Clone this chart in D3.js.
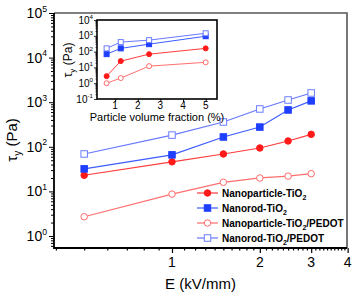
<!DOCTYPE html>
<html>
<head>
<meta charset="utf-8">
<script src="https://cdn.jsdelivr.net/npm/d3@7"></script>
<style>
  body { margin: 0; background: #fff; }
  text { font-family: Arial, 'Liberation Sans', sans-serif; }
</style>
</head>
<body>
<div id="chart"></div>
<script>
// Data - main chart (yield stress vs field strength)
const fields = [0.5, 1, 1.5, 2, 2.5, 3];
const npTiO2 = [23, 46, 69, 94, 135, 190];
const nrTiO2 = [32, 66, 166, 277, 670, 1070];
const npPedot = [2.7, 8.7, 16, 20, 22, 25];
const nrPedot = [69, 183, 360, 705, 1120, 1610];

// Data - inset (yield stress vs volume fraction)
const fractions = [0.625, 1.25, 2.5, 5];
const insetNp = [2.8, 25, 69, 160];
const insetNr = [69, 160, 295, 940];
const insetNpPedot = [1.0, 2.1, 12, 21];
const insetNrPedot = [160, 400, 530, 1450];

const xTicks = [1, 2, 3, 4];
const yTicks = [0, 1, 2, 3, 4, 5];
const insetXTicks = [1, 2, 3, 4, 5];
const insetYTicks = [-1, 0, 1, 2, 3, 4];

const series = [
  { name: 'Nanoparticle-TiO', tail: '', main: npTiO2, inset: insetNp, color: '#ff1a1a', line: '#ff3b3b', shape: 'circle', filled: true },
  { name: 'Nanorod-TiO', tail: '', main: nrTiO2, inset: insetNr, color: '#1f3fff', line: '#3d5cff', shape: 'square', filled: true },
  { name: 'Nanoparticle-TiO', tail: '/PEDOT', main: npPedot, inset: insetNpPedot, color: '#ff6a6a', line: '#ff6f6f', shape: 'circle', filled: false },
  { name: 'Nanorod-TiO', tail: '/PEDOT', main: nrPedot, inset: insetNrPedot, color: '#6c7dff', line: '#6878ff', shape: 'square', filled: false },
];

const width = 354;
const height = 293;
const frame = { left: 54, right: 347, top: 13, bottom: 248 };
const inset = { left: 97, right: 217, top: 20, bottom: 99 };

const svg = d3
  .select('#chart')
  .append('svg')
  .attr('width', width)
  .attr('height', height);

function drawMarker(g, shape, x, y, size, color, filled) {
  if (shape === 'circle') {
    g.append('circle')
      .attr('cx', x).attr('cy', y).attr('r', size / 2)
      .attr('fill', filled ? color : '#fff')
      .attr('stroke', color).attr('stroke-width', 1);
  } else {
    g.append('rect')
      .attr('x', x - size / 2).attr('y', y - size / 2)
      .attr('width', size).attr('height', size)
      .attr('fill', filled ? color : '#fff')
      .attr('stroke', color).attr('stroke-width', 1);
  }
}

function powLabel(sel, exp, size) {
  sel.append('tspan').text('10');
  sel.append('tspan')
    .attr('dy', -size * 0.45)
    .attr('font-size', size * 0.62)
    .text(exp);
}

// ---------- Main chart ----------
const xScale = d3.scaleLog().domain([0.394, 3.98]).range([frame.left, frame.right]);
const yScale = d3.scaleLog().domain([0.538, 1e5]).range([frame.bottom, frame.top]);

// frame top/right
svg.append('path')
  .attr('d', `M${frame.left},${frame.top}H${frame.right}V${frame.bottom}`)
  .attr('fill', 'none').attr('stroke', '#555').attr('stroke-width', 1.6);

const xMinor = d3.range(4, 10).map((d) => d / 10)
  .concat(d3.range(11, 40).filter((d) => d % 10 !== 0).map((d) => d / 10));
const yMinor = [];
for (let e = -1; e < 5; e++) {
  for (let m = 2; m < 10; m++) {
    const v = m * Math.pow(10, e);
    if (v > 0.538 && v < 1e5) yMinor.push(v);
  }
}

const xAxisG = svg.append('g').attr('transform', `translate(0,${frame.bottom})`);
xAxisG.call(d3.axisBottom(xScale).tickValues(xTicks).tickSize(5).tickFormat(''));
xAxisG.append('g').call(d3.axisBottom(xScale).tickValues(xMinor).tickSize(2.5).tickFormat(''));
xAxisG.selectAll('.domain').remove();
xAxisG.selectAll('line').attr('stroke', '#000').attr('stroke-width', 1.2);

const yAxisG = svg.append('g').attr('transform', `translate(${frame.left},0)`);
yAxisG.call(d3.axisLeft(yScale).tickValues(yTicks.map((e) => Math.pow(10, e))).tickSize(5).tickFormat(''));
yAxisG.append('g').call(d3.axisLeft(yScale).tickValues(yMinor).tickSize(3).tickFormat(''));
yAxisG.selectAll('.domain').remove();
yAxisG.selectAll('line').attr('stroke', '#000').attr('stroke-width', 1);

// axis lines
svg.append('path')
  .attr('d', `M${frame.left},${frame.top}V${frame.bottom}H${frame.right}`)
  .attr('fill', 'none').attr('stroke', '#000').attr('stroke-width', 1.8);

// tick labels
svg.append('g').selectAll('text').data(xTicks).join('text')
  .attr('x', (d) => xScale(d))
  .attr('y', frame.bottom + 19)
  .attr('text-anchor', 'middle')
  .attr('font-size', 14)
  .text((d) => d);

svg.append('g').selectAll('text').data(yTicks).join('text')
  .attr('x', frame.left - 7)
  .attr('y', (d) => yScale(Math.pow(10, d)) + 5)
  .attr('text-anchor', 'end')
  .attr('font-size', 14)
  .each(function (d) { powLabel(d3.select(this), d, 14); });

// axis titles
svg.append('text')
  .attr('x', (frame.left + frame.right) / 2)
  .attr('y', 289)
  .attr('text-anchor', 'middle')
  .attr('font-size', 15)
  .text('E (kV/mm)');

const yTitle = svg.append('text')
  .attr('transform', 'translate(17,140) rotate(-90)')
  .attr('text-anchor', 'middle')
  .attr('font-size', 15);
yTitle.append('tspan').text('τ');
yTitle.append('tspan').attr('dy', 4).attr('font-size', 10).text('y');
yTitle.append('tspan').attr('dy', -4).text(' (Pa)');

// series
const line = d3.line().x((d) => xScale(d[0])).y((d) => yScale(d[1]));
series.forEach((s) => {
  const pts = fields.map((f, i) => [f, s.main[i]]);
  const g = svg.append('g');
  g.append('path').attr('d', line(pts)).attr('fill', 'none').attr('stroke', s.line).attr('stroke-width', 1.2);
  pts.forEach((p) => drawMarker(g, s.shape, xScale(p[0]), yScale(p[1]), 6.5, s.color, s.filled));
});

// legend
const legend = svg.append('g').attr('transform', 'translate(197,193)');
series.forEach((s, i) => {
  const row = legend.append('g').attr('transform', `translate(0,${i * 15})`);
  row.append('line').attr('x1', 0).attr('x2', 21).attr('y1', 0).attr('y2', 0)
    .attr('stroke', s.line).attr('stroke-width', 1.2);
  drawMarker(row, s.shape, 10.5, 0, 6.5, s.color, s.filled);
  const t = row.append('text').attr('x', 25).attr('y', 3.5)
    .attr('font-size', 10).attr('font-weight', 'bold');
  t.append('tspan').text(s.name);
  t.append('tspan').attr('dy', 3).attr('font-size', 7).text('2');
  t.append('tspan').attr('dy', -3).text(s.tail);
});

// ---------- Inset ----------
const ix = d3.scaleLinear().domain([0.2, 5.5]).range([inset.left, inset.right]);
const iy = d3.scaleLog().domain([0.1, 1e4]).range([inset.bottom, inset.top]);

svg.append('rect')
  .attr('x', inset.left).attr('y', inset.top)
  .attr('width', inset.right - inset.left).attr('height', inset.bottom - inset.top)
  .attr('fill', '#fff').attr('stroke', '#000').attr('stroke-width', 1.6);

const ixG = svg.append('g').attr('transform', `translate(0,${inset.bottom})`);
ixG.call(d3.axisBottom(ix).tickValues(insetXTicks).tickSize(3).tickFormat(''));
ixG.selectAll('.domain').remove();
ixG.selectAll('line').attr('stroke', '#000');

const iyMinor = [];
for (let e = -1; e < 4; e++) {
  for (let m = 2; m < 10; m++) iyMinor.push(m * Math.pow(10, e));
}
const iyG = svg.append('g').attr('transform', `translate(${inset.left},0)`);
iyG.call(d3.axisLeft(iy).tickValues(insetYTicks.map((e) => Math.pow(10, e))).tickSize(3).tickFormat(''));
iyG.append('g').call(d3.axisLeft(iy).tickValues(iyMinor).tickSize(1.5).tickFormat(''));
iyG.selectAll('.domain').remove();
iyG.selectAll('line').attr('stroke', '#000').attr('stroke-width', 0.8);

svg.append('g').selectAll('text').data(insetXTicks).join('text')
  .attr('x', (d) => ix(d))
  .attr('y', inset.bottom + 9.5)
  .attr('text-anchor', 'middle')
  .attr('font-size', 10)
  .text((d) => d);

svg.append('g').selectAll('text').data(insetYTicks).join('text')
  .attr('x', inset.left - 4)
  .attr('y', (d) => iy(Math.pow(10, d)) + 3.5)
  .attr('text-anchor', 'end')
  .attr('font-size', 10)
  .each(function (d) { powLabel(d3.select(this), d, 10); });

svg.append('text')
  .attr('x', (inset.left + inset.right) / 2 + 0)
  .attr('y', 121)
  .attr('text-anchor', 'middle')
  .attr('font-size', 11)
  .text('Particle volume fraction (%)');

const iTitle = svg.append('text')
  .attr('transform', 'translate(72,60) rotate(-90)')
  .attr('text-anchor', 'middle')
  .attr('font-size', 12);
iTitle.append('tspan').text('τ');
iTitle.append('tspan').attr('dy', 3).attr('font-size', 8).text('y');
iTitle.append('tspan').attr('dy', -3).text(' (Pa)');

const iline = d3.line().x((d) => ix(d[0])).y((d) => iy(d[1]));
series.forEach((s) => {
  const pts = fractions.map((f, i) => [f, s.inset[i]]);
  const g = svg.append('g');
  g.append('path').attr('d', iline(pts)).attr('fill', 'none').attr('stroke', s.line).attr('stroke-width', 1);
  pts.forEach((p) => drawMarker(g, s.shape, ix(p[0]), iy(p[1]), 5, s.color, s.filled));
});
</script>
</body>
</html>
